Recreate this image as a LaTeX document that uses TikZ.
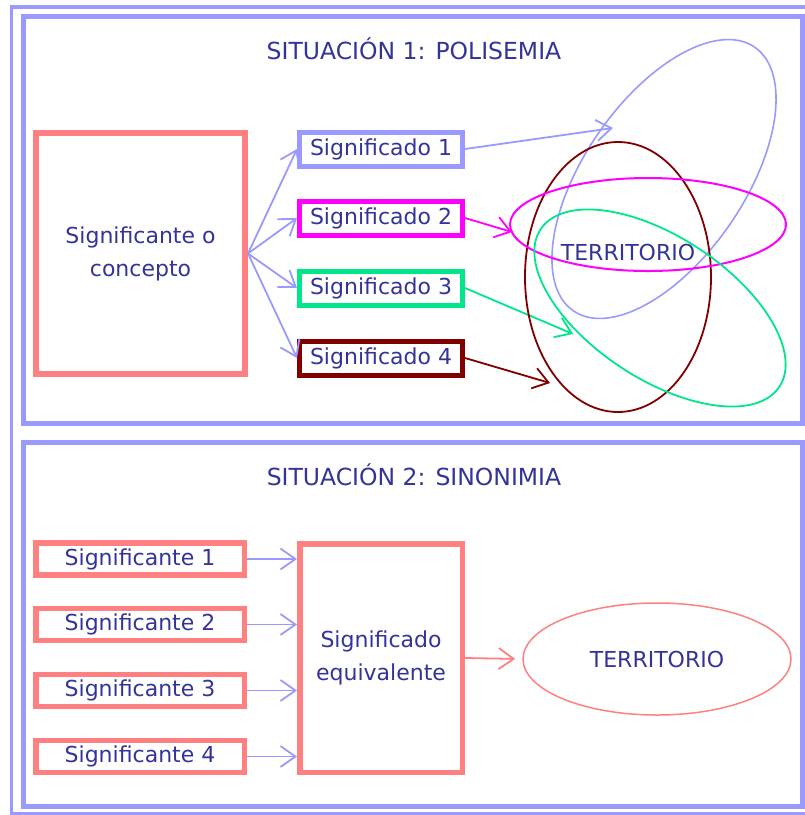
\documentclass[tikz,border=0pt]{standalone}
\usepackage{fontspec}
\setmainfont{DejaVu Sans}
\usetikzlibrary{arrows.meta,shapes.geometric}

\definecolor{lila}{RGB}{153,153,255}
\definecolor{salmon}{RGB}{255,128,128}
\definecolor{tinta}{RGB}{51,51,153}
\definecolor{verde}{RGB}{0,230,138}
\definecolor{granate}{RGB}{128,0,0}
\definecolor{fucsia}{RGB}{255,0,255}

\begin{document}
\begin{tikzpicture}[x=1pt,y=-1pt,
  every node/.style={text=tinta,font=\fontsize{22}{33}\selectfont},
  caja/.style={draw=#1,line width=5pt,inner sep=0pt,minimum width=163pt,minimum height=34pt},
  flecha/.style={draw=#1,line width=1.8pt,-{Straight Barb[length=15pt,width=21pt]}}]
  \useasboundingbox (0,0) rectangle (805,815);

  % marcos
  \draw[lila,line width=3.5pt] (11.5,7) rectangle (840,814);
  \draw[lila,line width=5pt] (23,16) rectangle (802,423.5);
  \draw[lila,line width=5pt] (23,442) rectangle (802,806);

  % situacion 1
  \node (titulo1) at (414,49) {\fontsize{23.5}{28}\selectfont SITUACIÓN 1: POLISEMIA};
  \node[draw=salmon,line width=6pt,minimum width=209pt,minimum height=241pt,align=center]
    (concepto) at (140.5,253.5) {Significante o\\concepto};

  \coordinate (llega1) at (613,128);
  \coordinate (llega2) at (512,232);
  \coordinate (llega3) at (573,334);
  \coordinate (llega4) at (550,383);
  \foreach \n/\c/\y in {1/lila/149, 2/fucsia/218, 3/verde/288, 4/granate/358} {
    \node[caja=\c] (sig\n) at (381,\y) {Significado \n};
    \draw[flecha=lila] (concepto.east) -- (sig\n.west);
    \draw[flecha=\c] (sig\n.east) -- (llega\n);
  }

  \draw[lila,line width=1.6pt,rotate around={55.5:(664,179)}] (664,179) ellipse (160 and 80);
  \draw[granate,line width=1.8pt] (618,277) ellipse (93 and 135);
  \draw[fucsia,line width=2pt] (648,224.5) ellipse (138 and 46.5);
  \draw[verde,line width=1.8pt,rotate around={-33.4:(660,308)}] (660,308) ellipse (143 and 71);
  \node (terr1) at (628,252) {TERRITORIO};

  % situacion 2
  \node (titulo2) at (414,475) {\fontsize{23.5}{28}\selectfont SITUACIÓN 2: SINONIMIA};
  \node[draw=salmon,line width=5.5pt,minimum width=162.5pt,minimum height=228.5pt,align=center]
    (equiv) at (381,658) {Significado\\equivalente};
  \foreach \n/\y in {1/559, 2/624.5, 3/690.5, 4/756.5} {
    \node[caja=salmon,line width=5.5pt,minimum width=208.5pt,minimum height=32pt]
      (ste\n) at (140,\y) {Significante \n};
    \draw[flecha=lila] (ste\n.east) -- (ste\n.east -| equiv.west);
  }
  \node[draw=salmon,ellipse,line width=1.5pt,minimum width=268pt,minimum height=112pt]
    (terr2) at (657,659) {TERRITORIO};
  \draw[flecha=salmon,shorten >=7pt] (equiv.east) -- (terr2.west);
\end{tikzpicture}
\end{document}
